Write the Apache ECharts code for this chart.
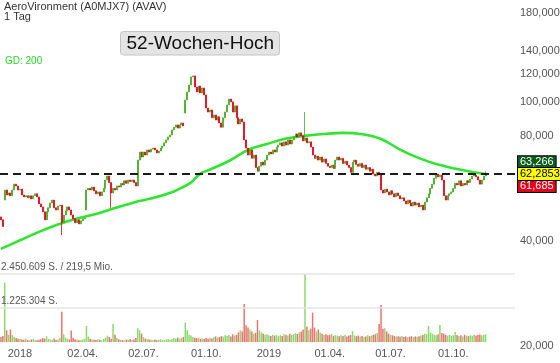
<!DOCTYPE html>
<html><head><meta charset="utf-8">
<script src="https://cdn.jsdelivr.net/npm/echarts@6/dist/echarts.min.js"></script>
<style>html,body{margin:0;padding:0;background:#fff}#c{width:560px;height:363px}</style>
</head><body><div id="c"></div>
<script>
// ---------- data ----------
const startDate = [2017, 11, 1];        // 1 Dec 2017 (UTC y, m0, d)
const daysPerBar = 2;                    // each candle = 2 trading days
const totalBars = 271;                   // x range until end of 2019
const tickLabels = ['2018','02.04.','02.07.','01.10.','2019','01.04.','01.07.','01.10.'];
const yTickValues = [20, 40, 80, 100, 120, 140, 180];

const firstOpen = 46.8;
const closes = [
 45.9,43.9,55.9,54.1,54.8,53.8,55.9,58.1,57.4,55.9,
 56.2,54.1,53.4,53.8,53.1,53.8,52.7,53.8,54.5,53.4,
 51.0,50.0,48.4,45.9,48.4,49.7,51.3,52.3,49.7,49.0,
 50.3,50.6,45.2,47.4,48.7,50.0,49.0,47.4,46.2,45.0,
 45.9,44.7,45.6,46.2,46.5,55.9,56.5,55.9,57.0,55.6,
 54.5,55.2,53.8,55.2,56.5,59.7,61.3,58.7,54.8,56.5,
 55.9,57.4,57.0,58.4,57.8,59.4,58.4,59.7,59.1,59.7,
 58.7,57.4,68.1,71.8,69.5,71.8,70.4,72.8,71.8,73.2,
 73.7,72.8,71.4,72.3,73.7,74.7,76.3,77.8,79.3,80.4,
 83.1,84.6,85.9,84.1,85.9,87.0,85.3,101.3,106.8,111.8,
 117.9,118.7,110.3,106.8,111.0,106.1,109.6,104.7,96.0,93.5,
 94.8,90.0,91.7,88.7,90.6,87.0,84.6,90.0,93.5,98.0,
 101.9,100.0,93.5,97.4,90.0,86.4,89.3,87.6,77.8,73.7,
 70.4,72.8,68.9,70.4,64.8,63.3,65.4,67.2,65.9,68.1,
 70.4,71.8,70.9,72.8,71.8,74.2,75.2,76.3,74.7,76.8,
 75.2,77.8,75.7,77.8,79.3,80.9,79.3,81.5,79.9,77.3,
 78.8,76.3,76.8,74.2,70.4,68.9,69.9,68.1,69.5,67.2,
 68.6,66.6,65.4,64.8,65.9,64.4,68.1,69.5,68.1,68.9,
 66.6,67.6,65.9,64.8,62.8,67.2,68.1,66.2,65.4,66.6,
 64.8,65.9,64.1,64.8,63.3,64.1,62.1,61.3,62.8,61.7,
 55.9,54.8,56.2,55.2,54.1,55.6,54.5,53.4,54.8,53.8,
 52.7,53.1,52.0,51.0,52.3,51.3,50.3,51.6,50.6,51.3,
 50.0,50.6,49.0,51.6,53.1,54.5,56.5,58.1,60.4,62.1,
 61.0,61.7,59.7,53.8,52.3,53.8,54.5,55.2,56.5,58.4,
 57.8,59.4,57.4,58.4,57.8,59.4,58.7,60.1,61.3,61.7,
 61.0,59.7,58.1,59.7,61.3,62.2853
];
const gapOpens   = [[2, 52.3], [45, 49.0], [97, 92.9]];
const lowSpikes  = [[32, 41.5], [58, 49.7]];
const highSpikes = [[160, 93.5]];
const lastHigh = 63.266, lastPrice = 62.2853, lastLow = 61.685;

const volumesK = [
 180,220,2140,420,260,450,250,180,140,120,
 110,90,80,120,70,60,90,110,70,60,
 80,100,140,120,210,110,90,80,130,70,
 90,150,1090,280,160,120,90,410,150,100,
 80,70,60,90,110,580,200,120,90,80,
 70,100,80,60,110,160,230,180,120,650,
 260,140,100,80,70,60,90,80,110,70,
 90,140,500,420,300,180,120,100,90,80,
 70,90,60,80,100,70,60,90,110,80,
 100,140,130,160,120,150,180,700,420,260,
 230,180,150,140,160,120,130,110,140,120,
 150,130,170,200,160,180,210,190,240,220,
 250,200,280,230,260,350,420,380,1370,600,
 520,450,380,300,330,790,420,350,300,260,
 280,240,220,260,230,250,210,240,220,280,
 260,230,300,250,280,320,290,350,380,450,
 2450,560,420,480,1056,520,380,450,330,300,
 260,280,240,260,300,220,250,230,210,240,
 220,260,200,230,250,400,240,210,230,200,
 220,180,200,240,210,230,260,280,320,650,
 1330,480,500,380,300,260,240,220,200,210,
 190,220,180,200,170,190,210,180,200,190,
 210,230,250,300,280,580,340,300,260,240,
 280,610,320,300,260,230,250,220,240,360,
 250,220,240,200,260,230,210,240,220,260,
 230,250,270,240,260,280
];
const volumeMax = 2450609;
const turnoverLabel = '219,5 Mio.';

const maIdx  = [0,10,20,30,40,50,60,70,80,90,95,100,105,110,120,130,140,150,160,170,180,190,200,210,220,230,240,250,255];
const maVals = [37.9,40.1,42.4,44.5,46.3,47.7,49.6,51.5,53.0,55.1,56.7,58.7,62.3,64.0,67.7,72.8,75.7,78.5,79.9,80.9,81.5,80.8,78.3,73.0,69.0,66.1,64.2,62.7,62.1];

// ---------- categories (2-trading-day bins) ----------
const cats = [], quarterBars = [];
{
  let d = new Date(Date.UTC(startDate[0], startDate[1], startDate[2]));
  let wd = 0, prevMonth = null;
  while (true) {
    const dow = d.getUTCDay();
    if (dow !== 0 && dow !== 6) {
      const bar = Math.floor(wd / daysPerBar);
      if (bar >= totalBars) break;
      if (wd % daysPerBar === 0) cats.push(d.toISOString().slice(0, 10));
      const m = d.getUTCMonth();
      if (prevMonth !== null && m !== prevMonth && m % 3 === 0) quarterBars.push(bar);
      prevMonth = m; wd++;
    }
    d = new Date(d.getTime() + 86400000);
  }
}
const labelAt = {};
quarterBars.forEach((b, i) => { if (i < tickLabels.length) labelAt[b] = tickLabels[i]; });

// ---------- candles ----------
const gapMap = Object.fromEntries(gapOpens);
const lowMap = Object.fromEntries(lowSpikes);
const highMap = Object.fromEntries(highSpikes);
lowMap[closes.length - 1] = lastLow; highMap[closes.length - 1] = lastHigh;
const candles = closes.map((c, i) => {
  const o = gapMap[i] !== undefined ? gapMap[i] : (i === 0 ? firstOpen : closes[i - 1]);
  let lo = Math.min(o, c), hi = Math.max(o, c);
  if (lowMap[i] !== undefined) lo = Math.min(lo, lowMap[i]);
  if (highMap[i] !== undefined) hi = Math.max(hi, highMap[i]);
  return [o, c, lo, hi];
});
const UP = '#45a920', DOWN = '#e0000f';
const VUP = '#8ddb6c', VDOWN = '#ee7474';
const volData = volumesK.map((v, i) => ({
  value: v * 1000,
  itemStyle: { color: candles[i][1] >= candles[i][0] ? VUP : VDOWN }
}));
const maData = maIdx.map((k, n) => [cats[k], maVals[n]]);

const fmt = (v, dec) => v.toFixed(dec).replace('.', ',');
const FONT = 'Liberation Sans';
const CLEAR = 'rgba(0,0,0,0)';
const boxLabel = (text, bg, fg, dy) => ({
  show: true, position: 'end', distance: 3, formatter: text,
  backgroundColor: bg, color: fg, borderColor: '#000', borderWidth: 1,
  padding: [1, 2, 0, 2], fontSize: 11, lineHeight: 11, fontFamily: FONT, offset: [0, dy]
});

const markData = yTickValues.map(v => ({
  yAxis: v, lineStyle: { color: CLEAR, width: 0 },
  label: { show: true, position: 'end', distance: 5, formatter: fmt(v, 3), color: '#555', fontSize: 11, fontFamily: FONT }
}));
markData.push({ yAxis: lastHigh, lineStyle: { color: CLEAR, width: 0 }, label: boxLabel(fmt(lastHigh, 3), '#0c5e1c', '#fff', -9) });
markData.push({ yAxis: lastLow, lineStyle: { color: CLEAR, width: 0 }, label: boxLabel(fmt(lastLow, 3), '#e2001a', '#fff', 11) });
markData.push({ yAxis: lastPrice, lineStyle: { color: '#1a1a1a', width: 2.2, type: [8, 5] }, label: boxLabel(fmt(lastPrice, 4), '#ffff00', '#000', 0.5) });

const volLine = (v, text) => ({
  yAxis: v,
  lineStyle: { color: '#e4e4e4', width: 1.6, type: 'solid' },
  label: { show: true, position: 'insideStartTop', distance: [1, 2], formatter: text, color: '#555', fontSize: 10, fontFamily: FONT }
});
const half = Math.floor(volumeMax / 2);

const chart = echarts.init(document.getElementById('c'), null, { renderer: 'canvas' });
chart.setOption({
  animation: false,
  backgroundColor: '#fff',
  textStyle: { fontFamily: FONT },
  grid: [
    { left: 0, right: 45, top: 0, bottom: 17.3 },
    { left: 0, right: 45, top: 274, bottom: 21 }
  ],
  xAxis: [
    { type: 'category', gridIndex: 0, data: cats, boundaryGap: true,
      axisLine: { show: false }, axisTick: { show: false }, splitLine: { show: false },
      axisLabel: { interval: (i) => labelAt[i] !== undefined, formatter: (v, i) => labelAt[i] || '',
        margin: 3, color: '#555', fontSize: 11, fontFamily: FONT, hideOverlap: false } },
    { type: 'category', gridIndex: 1, data: cats, boundaryGap: true, show: false }
  ],
  yAxis: [
    { type: 'log', logBase: 10, gridIndex: 0, min: 20, max: 195.9, position: 'right',
      axisLabel: { show: false }, axisLine: { show: false }, axisTick: { show: false }, splitLine: { show: false } },
    { type: 'value', gridIndex: 1, min: 0, max: volumeMax, show: false, splitLine: { show: false } }
  ],
  series: [
    { type: 'line', name: 'volgrid', xAxisIndex: 1, yAxisIndex: 1, data: [], z: 0, silent: true,
      markLine: { symbol: 'none', silent: true, animation: false,
        data: [volLine(volumeMax, volumeMax.toLocaleString('de-DE') + ' S. / ' + turnoverLabel),
               volLine(half, half.toLocaleString('de-DE') + ' S.')] } },
    { type: 'bar', name: 'Volumen', xAxisIndex: 1, yAxisIndex: 1, data: volData, barWidth: '80%', z: 2, silent: true },
    { type: 'line', name: 'GD 200', xAxisIndex: 0, yAxisIndex: 0, data: maData, smooth: 0.4, symbol: 'none',
      lineStyle: { color: '#2fe52f', width: 2.6 }, z: 1, silent: true },
    { type: 'candlestick', name: 'AVAV', xAxisIndex: 0, yAxisIndex: 0, data: candles, z: 3, silent: true,
      barWidth: 1.5,
      itemStyle: { color: UP, color0: DOWN, borderColor: UP, borderColor0: DOWN, borderWidth: 0.8 },
      markLine: { symbol: 'none', silent: true, animation: false, z: 5, data: markData } }
  ],
  graphic: [
    { type: 'text', x: 4, y: 6.5, style: { text: 'AeroVironment (A0MJX7) (AVAV)', font: '11px "Liberation Sans"', fill: '#333', verticalAlign: 'middle', textVerticalAlign: 'middle' } },
    { type: 'text', x: 4, y: 17, style: { text: '1 Tag', font: '11px "Liberation Sans"', fill: '#333', verticalAlign: 'middle', textVerticalAlign: 'middle' } },
    { type: 'rect', shape: { x: 120.5, y: 31.5, width: 159, height: 23.5, r: 3 }, style: { fill: '#e4e4e4', stroke: '#c4c4c4', lineWidth: 1 } },
    { type: 'text', x: 200.3, y: 43.6, style: { text: '52-Wochen-Hoch', font: '19px "Liberation Sans"', fill: '#111', align: 'center', verticalAlign: 'middle', textAlign: 'center', textVerticalAlign: 'middle' } },
    { type: 'text', x: 5, y: 61, style: { text: 'GD: 200', font: '10px "Liberation Sans"', fill: '#22dd22', verticalAlign: 'middle', textVerticalAlign: 'middle' } }
  ]
});
</script></body></html>
